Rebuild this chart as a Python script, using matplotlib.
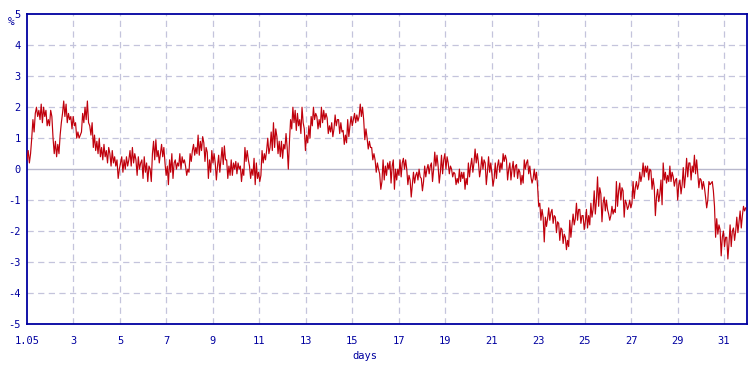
import numpy as np
import matplotlib
matplotlib.use("Agg")
import matplotlib.pyplot as plt

# values, in order, from day 1 (May 1) to day ~32 (June 1), in %
seg1 = [0.3,0.6,0.2,0.5, 1.0,1.6,1.2,1.8, 2.0,1.7,1.9,1.6, 2.1,1.5,2.0,1.7,1.9,
        1.4,1.6,1.4, 1.9,1.7, 1.0,0.5,0.9, 0.4,0.8,0.5, 1.1,1.5, 1.8,2.2,1.7,2.1,
        1.5,1.8,1.6,1.7, 1.3,1.7,1.4,1.5, 1.0,1.2,1.0,1.1, 1.2,1.8,1.5, 2.0,1.6,2.2,1.5,
        1.4,1.1,1.5, 0.7,1.1,0.6, 0.9,0.5,1.0,0.4, 0.7,0.3,0.8,0.4,0.6,0.2,0.7,
        0.5,0.1,0.6,0.2,0.4,0.1, 0.3,-0.3,0.0,0.2, 0.4,-0.1,0.3,0.0,0.4,0.1,0.3,
        0.6,0.1,0.7,0.2,0.5, 0.3,-0.2,0.4,0.0,0.2, 0.3,-0.3,0.4,-0.1,0.2,-0.4,0.1]
seg2 = [0.0,-0.4, 0.5,0.9,0.3,0.95,0.4, 0.6,0.2,0.5, 0.8,0.4,0.7, 0.2,-0.2,0.1,-0.5,
        0.3,-0.1,0.5,-0.3,0.2, 0.3,0.0,0.2,0.1, 0.5,0.0,0.4,0.2,0.3, 0.1,-0.2,0.0,-0.1,
        0.5,0.25,0.6, 0.8,0.45,0.7,0.5, 1.1,0.45,0.9,0.6,1.05, 0.85,0.25,0.7,
        0.55,-0.3,0.3,-0.1, 0.6,0.2,0.5, 0.2,-0.35,0.1, 0.45,-0.1,0.3, 0.7,0.15,0.75,0.3,
        0.3,-0.3,0.1,-0.2, 0.3,-0.2,0.2,0.0, 0.25,-0.15,0.2,0.0, 0.1,-0.4,0.0,-0.2,
        0.7,0.25,0.6,0.3, 0.1,-0.3,0.0,-0.2, 0.35,-0.5,0.2,-0.3, -0.1,-0.4,-0.2,
        0.6,0.2,0.5,0.3, 0.6,1.0,0.5]
seg3 = [0.7,1.2,0.6, 1.5,0.7,1.3, 1.05,0.5,0.9, 0.4,0.9,0.35,0.8, 0.65,1.15,0.7, 0.0,
        0.9,1.6, 1.3,2.0,1.5,1.9,1.25, 1.8,1.4,1.6,1.15, 2.0,1.5, 1.3,0.6,1.1, 0.85,1.4,1.0,
        1.7,1.4,2.0,1.6,1.8, 1.7,1.3,1.6,1.35, 2.0,1.5,1.9,1.6,1.8, 1.65,1.15,1.4,1.2,
        1.5,1.05,1.3, 1.75,1.4,1.6, 1.6,1.15,1.5,1.2, 1.25,0.8,1.1,0.85, 1.6,1.05,1.4,
        1.7,1.4,1.6, 1.8,1.5,1.75,1.55,1.7, 2.1,1.7,2.0, 1.6,0.95,1.3, 1.0,0.65,0.9,0.7,
        0.7,0.3,0.5, 0.3,-0.1,0.2,0.0, -0.15,-0.65,-0.4, 0.3,-0.35,0.1,-0.2,0.2,0.0]
seg4 = [0.25,-0.45,0.1, 0.3,-0.65,0.0, -0.35,0.0,-0.2, 0.3,-0.25,0.2, 0.35,0.0,0.3,
        0.0,-0.5,-0.2, -0.35,-0.9,-0.5, -0.1,-0.45,-0.2, -0.1,-0.35,0.0,-0.25, -0.3,-0.7,-0.4,
        0.1,-0.25,0.0, 0.15,-0.15,0.1, 0.2,-0.4,0.0, 0.55,0.1,0.45, 0.1,-0.45,-0.1,
        0.45,-0.15,0.3, 0.5,0.0,0.4, 0.2,-0.15,0.1, 0.0,-0.25,-0.1, -0.15,-0.5,-0.3,-0.45,
        0.0,-0.4,-0.1,-0.3, -0.1,-0.65,-0.3,-0.5, 0.2,-0.25,0.1, 0.35,-0.1,0.2, 0.65,0.2,0.5,
        0.2,-0.25,0.0, 0.4,0.0,0.3, 0.2,-0.5,-0.1, 0.4,-0.1,0.2, -0.15,-0.55,-0.3,
        0.2,-0.3,0.1, 0.3,-0.1,0.2,0.0, 0.5,0.25,0.45, 0.3,-0.35,0.0]
seg5 = [0.2,-0.35,0.0, 0.25,-0.25,0.1, 0.15,-0.3,0.0, -0.1,-0.5,-0.2,-0.45, 0.3,0.0,0.2,
        0.3,-0.15,0.1, -0.25,-0.45,-0.3, 0.0,-0.35,-0.1, -0.55,-1.2, -1.1,-1.65,-1.3,
        -1.55,-2.35, -1.55,-1.85,-1.6, -1.25,-1.65,-1.4, -1.3,-1.75,-1.5, -1.55,-2.05,-1.7,
        -1.75,-2.3,-1.9, -1.95,-2.4,-2.1, -2.2,-2.6,-2.3,-2.5, -1.65,-2.2,-1.8,
        -1.45,-1.8,-1.6, -1.1,-1.65,-1.3, -1.3,-1.75,-1.5, -1.5,-1.95,-1.7,
        -1.3,-1.9,-1.5,-1.8, -1.1,-1.55,-1.3, -0.7,-1.45,-1.0, -0.25,-1.2,-0.6,
        -0.8,-1.7,-1.1, -0.9,-1.35,-1.0,-1.3, -1.45,-1.65,-1.5, -1.2,-1.45,-1.3,-1.4,
        -0.4,-1.2,-0.7, -0.45,-1.0,-0.6, -0.7,-1.55,-1.0, -1.1,-1.3,-1.2]
seg6 = [-1.0,-1.25,-1.1, -0.4,-0.95,-0.6, -0.4,-0.65,-0.5, -0.1,-0.4,-0.2, 0.2,-0.25,0.1,-0.1,
        0.1,-0.35,0.0, -0.05,-0.65,-0.3, -0.6,-1.5,-0.9, -0.65,-1.05,-0.8, -0.35,-1.15,
        0.2,-0.35, -0.1,-0.45,-0.2,-0.4, 0.1,-0.4,-0.1, -0.25,-0.55,-0.35, -0.3,-1.0,-0.5,
        -0.35,-0.8,-0.5, 0.05,-0.6,-0.2, 0.35,-0.25,0.2, 0.2,-0.35,0.1,-0.1, 0.45,-0.15,0.3,
        -0.15,-0.6,-0.3, -0.35,-0.65,-0.4,-0.6, -0.9,-1.25,-1.0, -0.4,-0.5,-0.45, -0.4,-0.7,
        -1.2,-2.2, -1.6,-2.1,-1.8, -1.95,-2.8,-2.2, -2.0,-2.5,-2.2, -2.2,-2.9,-2.4,
        -1.8,-2.5,-2.0, -1.9,-2.3,-2.0, -1.55,-2.05,-1.7, -1.35,-1.9,-1.5, -1.2,-1.35,-1.25]
segments = [seg1, seg2, seg3, seg4, seg5, seg6]
seg_start_days = [1.0, 6.30, 11.46, 16.62, 21.78, 26.94]
seg_end_days = [6.30, 11.46, 16.62, 21.78, 26.94, 31.98]

x_ticks = [1, 3, 5, 7, 9, 11, 13, 15, 17, 19, 21, 23, 25, 27, 29, 31]
x_tick_labels = ["1.05", "3", "5", "7", "9", "11", "13", "15", "17", "19", "21",
                 "23", "25", "27", "29", "31"]
y_ticks = [-5, -4, -3, -2, -1, 0, 1, 2, 3, 4, 5]

BLUE = "#0000a0"
GRID = "#c4c4dc"
LINE = "#c0000c"

plt.rcParams['font.family'] = ['DejaVu Sans Mono']
fig = plt.figure(figsize=(7.56, 3.69), dpi=100)
ax = fig.add_axes([27/756, 1 - 324/369, (747.3 - 27)/756, (324 - 14.3)/369])

days, vals = [], []
for seg, d0, d1 in zip(segments, seg_start_days, seg_end_days):
    days.extend(np.linspace(d0, d1, len(seg), endpoint=False))
    vals.extend(seg)

ax.set_xlim(1, 32)
ax.set_ylim(-5, 5)

for yv in y_ticks[1:-1]:
    if yv == 0:
        ax.axhline(0, color="#b8b8cc", lw=1.0, zorder=1)
    else:
        ax.axhline(yv, color=GRID, lw=0.9, ls=(0, (5, 3.5)), zorder=1)
for xv in x_ticks[1:]:
    ax.axvline(xv, color=GRID, lw=0.9, ls=(0, (5, 3.5)), zorder=1)

ax.plot(days, vals, color=LINE, lw=0.85, zorder=3)

for s in ax.spines.values():
    s.set_color(BLUE)
    s.set_linewidth(1.3)

ax.set_xticks(x_ticks)
ax.set_xticklabels(x_tick_labels)
ax.set_yticks(y_ticks)
ax.set_yticklabels([str(v) for v in y_ticks])
ax.tick_params(axis='both', length=0, colors=BLUE, labelsize=7.5)
ax.tick_params(axis='x', pad=9)
ax.tick_params(axis='y', pad=4.5)

fig.text(11/756, 1 - 22/369, "%", color=BLUE, fontsize=8, ha='center', va='center')
fig.text(365/756, 1 - 356/369, "days", color=BLUE, fontsize=7.5, ha='center', va='center')

fig.savefig("out.png", dpi=100)
